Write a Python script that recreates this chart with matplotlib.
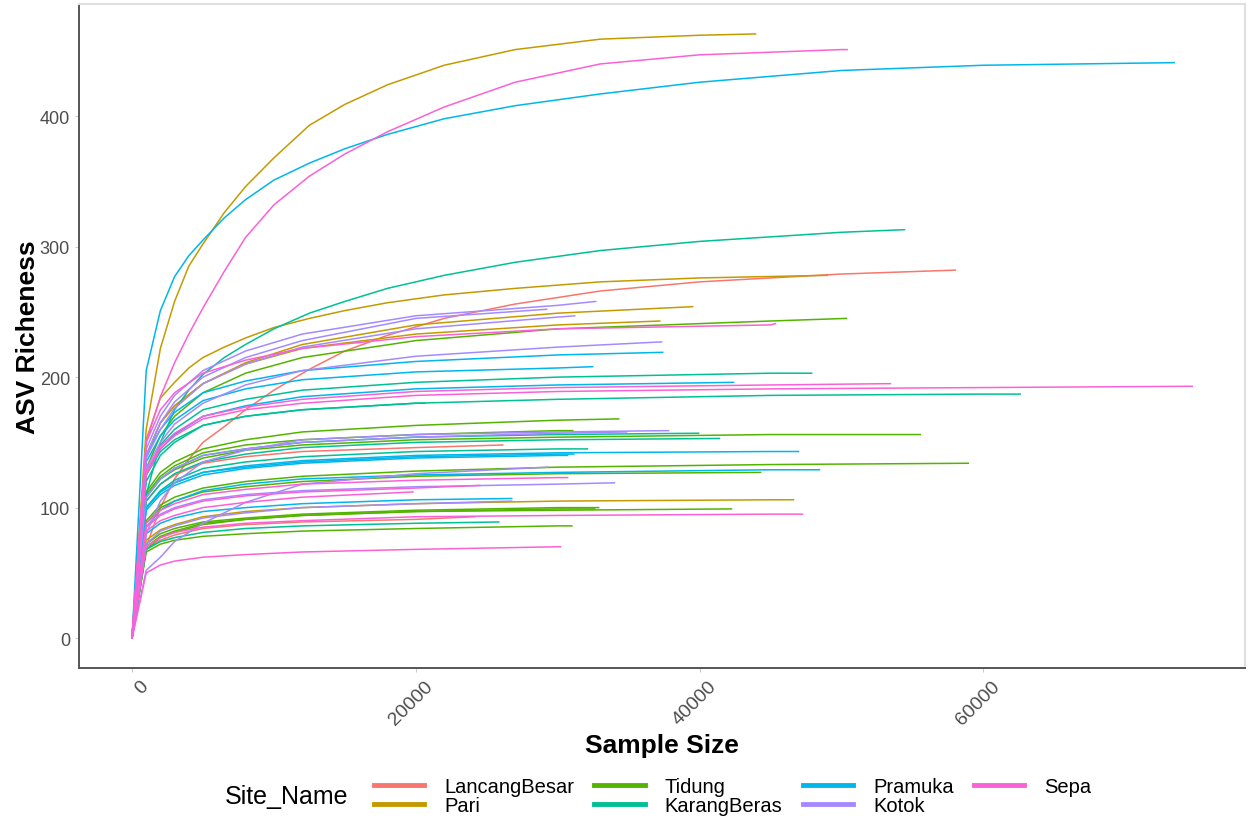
import matplotlib.pyplot as plt
import matplotlib.transforms as mtransforms
from matplotlib.lines import Line2D

plt.rcParams['font.family'] = ['Liberation Sans', 'DejaVu Sans']

COARSE = [0, 1000, 2000, 3000, 5000, 8000, 12000, 20000, 30000, 45000, 60000]
FINE = [0, 1000, 2000, 3000, 4000, 5000, 6500, 8000, 10000, 12500, 15000,
        18000, 22000, 27000, 33000, 40000, 50000, 60000]

sites = ['LancangBesar', 'Pari', 'Tidung', 'KarangBeras', 'Pramuka', 'Kotok', 'Sepa']
colors = ['#F8766D', '#C49A00', '#53B400', '#00C094', '#00B6EB', '#A58AFF', '#FB61D7']

# each curve: (grid, max sample size, richness at grid points below it + richness at max)
lancang = [
    ('fine', 58030, [0, 70, 100, 122, 137, 150, 162, 175, 190, 206, 220, 232, 245, 256, 266, 273, 279, 282]),
    ('coarse', 26130, [0, 105, 118, 125, 134, 139, 143, 146, 148]),
    ('coarse', 24150, [0, 68, 75, 79, 84, 87, 89, 91, 93]),
]
pari = [
    ('fine', 43940, [0, 160, 222, 258, 285, 302, 326, 346, 368, 393, 409, 424, 439, 451, 459, 462, 463]),
    ('fine', 49000, [0, 152, 184, 196, 207, 215, 223, 230, 238, 245, 251, 257, 263, 268, 273, 276, 278]),
    ('coarse', 39510, [0, 140, 165, 178, 195, 211, 225, 240, 249, 254]),
    ('coarse', 37200, [0, 140, 165, 178, 195, 210, 222, 233, 240, 243]),
    ('coarse', 46620, [0, 75, 83, 87, 93, 97, 100, 103, 105, 106, 106]),
]
tidung = [
    ('coarse', 50350, [0, 130, 155, 170, 188, 203, 215, 228, 237, 243, 245]),
    ('coarse', 34300, [0, 112, 127, 135, 145, 152, 158, 163, 167, 168]),
    ('coarse', 31060, [0, 110, 124, 132, 142, 148, 152, 156, 159, 159]),
    ('coarse', 55560, [0, 108, 122, 129, 138, 144, 148, 152, 154, 156, 156]),
    ('coarse', 58940, [0, 90, 102, 108, 115, 120, 124, 128, 131, 133, 134]),
    ('coarse', 44300, [0, 88, 100, 105, 112, 116, 120, 124, 126, 127]),
    ('coarse', 32890, [0, 72, 80, 84, 89, 92, 95, 98, 100, 100]),
    ('coarse', 32600, [0, 70, 78, 82, 88, 91, 94, 97, 99, 99]),
    ('coarse', 42250, [0, 68, 77, 81, 87, 91, 94, 97, 98, 99]),
    ('coarse', 31000, [0, 66, 72, 75, 78, 80, 82, 84, 86, 86]),
]
karang = [
    ('fine', 54440, [0, 110, 150, 175, 190, 202, 215, 225, 237, 249, 258, 268, 278, 288, 297, 304, 311, 313]),
    ('coarse', 47900, [0, 125, 148, 160, 175, 183, 190, 196, 200, 203, 203]),
    ('coarse', 62600, [0, 120, 140, 150, 163, 170, 175, 180, 183, 186, 187, 187]),
    ('coarse', 20630, [0, 125, 143, 152, 163, 170, 175, 180, 180]),
    ('coarse', 39930, [0, 108, 122, 130, 140, 145, 150, 154, 156, 157]),
    ('coarse', 41400, [0, 105, 118, 126, 135, 141, 146, 150, 152, 153]),
    ('coarse', 32100, [0, 100, 113, 121, 130, 135, 139, 143, 145, 145]),
    ('coarse', 25850, [0, 68, 74, 77, 81, 84, 86, 88, 89]),
]
pramuka = [
    ('fine', 73450, [0, 205, 251, 277, 293, 305, 322, 336, 351, 364, 375, 386, 398, 408, 417, 426, 435, 439, 441]),
    ('coarse', 37400, [0, 140, 160, 173, 188, 197, 205, 212, 217, 219]),
    ('coarse', 32460, [0, 135, 155, 167, 182, 191, 198, 204, 207, 208]),
    ('coarse', 42400, [0, 125, 145, 156, 170, 178, 185, 191, 194, 196]),
    ('coarse', 31130, [0, 100, 112, 119, 127, 131, 135, 139, 141, 141]),
    ('coarse', 30700, [0, 98, 110, 117, 125, 130, 134, 138, 140, 140]),
    ('coarse', 46970, [0, 100, 112, 119, 127, 132, 136, 140, 142, 143, 143]),
    ('coarse', 48450, [0, 85, 98, 105, 113, 118, 122, 125, 127, 129, 129]),
    ('coarse', 26760, [0, 80, 88, 92, 97, 100, 103, 106, 107]),
]
kotok = [
    ('coarse', 32680, [0, 145, 170, 186, 205, 220, 233, 247, 255, 258]),
    ('coarse', 29230, [0, 140, 165, 181, 200, 215, 228, 245, 252]),
    ('coarse', 31200, [0, 138, 160, 176, 195, 210, 223, 237, 246, 247]),
    ('coarse', 37320, [0, 130, 150, 164, 180, 194, 205, 216, 223, 227]),
    ('coarse', 37820, [0, 80, 105, 119, 135, 144, 152, 156, 158, 159]),
    ('coarse', 34860, [0, 108, 122, 130, 140, 145, 150, 154, 157, 158]),
    ('coarse', 29300, [0, 52, 62, 74, 88, 104, 118, 126, 131]),
    ('coarse', 34000, [0, 85, 95, 100, 106, 110, 113, 116, 118, 119]),
    ('coarse', 26760, [0, 72, 82, 86, 92, 96, 100, 103, 105]),
]
sepa = [
    ('fine', 50400, [0, 150, 185, 211, 233, 253, 281, 307, 332, 354, 371, 388, 407, 426, 440, 447, 451, 451]),
    ('coarse', 45350, [0, 150, 175, 188, 203, 213, 222, 231, 237, 240, 241]),
    ('coarse', 53450, [0, 128, 147, 157, 170, 177, 183, 189, 192, 194, 195]),
    ('coarse', 74720, [0, 125, 145, 155, 168, 175, 180, 186, 189, 191, 192, 193]),
    ('coarse', 30700, [0, 88, 98, 103, 110, 114, 118, 121, 123, 123]),
    ('coarse', 24500, [0, 85, 94, 99, 105, 109, 112, 115, 117]),
    ('coarse', 19800, [0, 82, 90, 94, 100, 104, 108, 112]),
    ('coarse', 47250, [0, 70, 77, 81, 85, 88, 90, 93, 94, 95, 95]),
    ('coarse', 30200, [0, 50, 56, 59, 62, 64, 66, 68, 70, 70]),
]

curves = [lancang, pari, tidung, karang, pramuka, kotok, sepa]

fig = plt.figure(figsize=(12.54, 8.2), dpi=100)
ax = fig.add_axes([0.063, 0.184, 0.930, 0.810])

for site_curves, col in zip(curves, colors):
    for kind, n_max, rich in site_curves:
        grid = FINE if kind == 'fine' else COARSE
        xs = grid[:len(rich) - 1] + [n_max]
        ax.plot(xs, rich, color=col, lw=1.1, solid_joinstyle='round')

ax.set_xlim(-3736, 78456)
ax.set_ylim(-23, 486)
ax.set_xticks([0, 20000, 40000, 60000])
ax.set_yticks([0, 100, 200, 300, 400])
ax.tick_params(axis='x', colors='#CCCCCC', labelcolor='#4D4D4D', labelsize=14,
               length=3, width=0.8)
ax.tick_params(axis='y', colors='#CCCCCC', labelcolor='#4D4D4D', labelsize=13,
               length=3, width=0.8)
shift = mtransforms.ScaledTranslation(0.08, 0, fig.dpi_scale_trans)
for lab in ax.get_xticklabels():
    lab.set_rotation(45)
    lab.set_ha('right')
    lab.set_va('top')
    lab.set_rotation_mode('anchor')
    lab.set_transform(lab.get_transform() + shift)

for side in ['left', 'bottom']:
    ax.spines[side].set_color('#555555')
    ax.spines[side].set_linewidth(1.4)
for side in ['top', 'right']:
    ax.spines[side].set_color('#E0E0E0')
    ax.spines[side].set_linewidth(1.5)

ax.set_xlabel('Sample Size', fontsize=19, fontweight='bold', labelpad=4)
ax.set_ylabel('ASV Richeness', fontsize=19, fontweight='bold', labelpad=0)

handles = [Line2D([0], [0], color=c, lw=3.5) for c in colors]
fig.text(0.179, 0.028, 'Site_Name', fontsize=18, va='center', ha='left')
fig.legend(handles, sites, loc='center left', bbox_to_anchor=(0.298, 0.028),
           ncol=4, frameon=False, fontsize=14.5, handlelength=2.5,
           handletextpad=1.0, columnspacing=1.0, labelspacing=0.0,
           borderaxespad=0, borderpad=0)

fig.savefig('out.png', dpi=100)
